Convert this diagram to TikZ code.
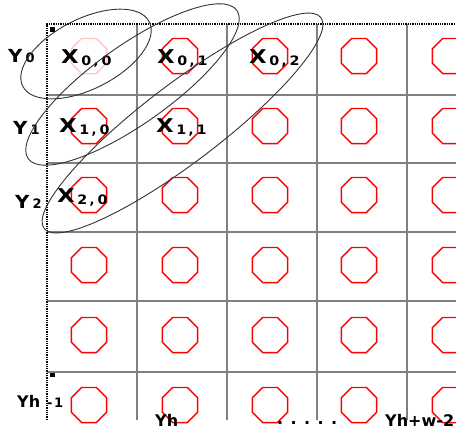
\documentclass[tikz,border=0pt]{standalone}
\usepackage{fontspec}
\usepackage{graphicx}
\setmainfont{DejaVu Sans}
\usetikzlibrary{shapes.geometric}

\newcommand{\xcell}[2]{{\fontsize{19}{19}\selectfont\scalebox{1.2}[1]{X}}\hspace{2.5pt}%
    \raisebox{-2pt}{\fontsize{13}{13}\selectfont\scalebox{1.1}[1]{#1}\hspace{2.5pt},\hspace{3pt}\scalebox{1.1}[1]{#2}}}
\newcommand{\yrow}[1]{{\fontsize{18}{18}\selectfont\scalebox{1.1}[1]{Y}}\hspace{3pt}{\fontsize{13}{13}\selectfont #1}}

\begin{document}
\begin{tikzpicture}[x=1pt, y=-1pt,
    gridline/.style={draw=black!50, line width=2pt},
    border/.style={densely dotted, line width=1.3pt},
    oct/.style={regular polygon, regular polygon sides=8, minimum size=38pt,
                inner sep=0pt, line width=1.4pt},
    lbl/.style={anchor=base west, inner sep=0pt, font=\bfseries},
    diag/.style={ellipse, draw=black!80, line width=0.9pt, inner sep=0pt}
]
    \useasboundingbox (0,0) rectangle (456,429);
    \clip (0,0) rectangle (456,429);
    % grid
    \foreach \x in {137,227,317,407}
        \draw[gridline] (\x,24) -- (\x,420);
    \foreach \y in {95,163,232,301,372}
        \draw[gridline] (47,\y) -- (456,\y);
    \draw[border] (47,420) -- (47,24) -- (456,24);
    \fill (50,27) rectangle (55,32);
    \fill (50,373) rectangle (55,377);
    % octagons
    \foreach \y [count=\r from 0] in {56,126,195,265,335,405}{
        \foreach \x [count=\c from 0] in {89,180,270,359,450}{
            \ifnum\r\c=0 \def\ocol{red!22}\else\def\ocol{red}\fi
            \node[oct, draw=\ocol] (oct-\r-\c) at (\x,\y) {};
        }
    }
    % cell labels
    \node[lbl] (x00) at (61,63) {\xcell{0}{0}};
    \node[lbl] (x01) at (157,63) {\xcell{0}{1}};
    \node[lbl] (x02) at (249,63) {\xcell{0}{2}};
    \node[lbl] (x10) at (59,132) {\xcell{1}{0}};
    \node[lbl] (x11) at (156,132) {\xcell{1}{1}};
    \node[lbl] (x20) at (57,202) {\xcell{2}{0}};
    % row / output labels
    \node[lbl] (y0) at (8,62) {\yrow{0}};
    \node[lbl] (y1) at (13,134) {\yrow{1}};
    \node[lbl] (y2) at (15,208) {\yrow{2}};
    \node[lbl] (yh1) at (17,407) {{\fontsize{16}{16}\selectfont Yh}\hspace{7pt}{\fontsize{13}{13}\selectfont -\hspace{1.5pt}1}};
    \node[lbl] (yh) at (155,426) {\fontsize{16}{16}\selectfont Yh};
    \node[lbl] (dots) at (277,424) {\fontsize{16}{16}\selectfont . . . . .};
    \node[lbl] (yhw) at (385,426) {\fontsize{16}{16}\selectfont Yh+w-2};
    % anti-diagonals
    \node[diag, minimum width=142pt, minimum height=70pt, rotate=27] (diag0) at (86,54) {};
    \node[diag, minimum width=256pt, minimum height=78pt, rotate=35.4] (diag1) at (132.5,84.5) {};
    \node[diag, minimum width=348pt, minimum height=78pt, rotate=37.3] (diag2) at (182.5,123) {};
\end{tikzpicture}
\end{document}
